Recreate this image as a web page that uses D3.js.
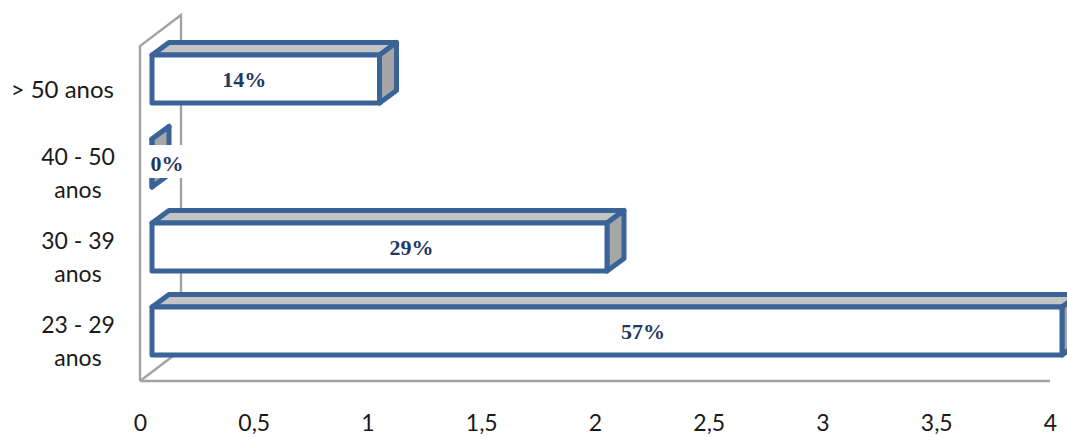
<!DOCTYPE html>
<html>
<head>
<meta charset="utf-8">
<script src="https://cdnjs.cloudflare.com/ajax/libs/d3/7.8.5/d3.min.js"></script>
<style>
html, body { margin: 0; padding: 0; background: #fff; }
svg { display: block; }
</style>
</head>
<body>
<svg id="chart" width="1067" height="437"></svg>
<script>
// Age bands, top to bottom, with respondent counts and their shares
const categories = ["> 50 anos", "40 - 50 anos", "30 - 39 anos", "23 - 29 anos"];
const counts = [1, 0, 2, 4];
const shares = ["14%", "0%", "29%", "57%"];
const tickValues = [0, 0.5, 1, 1.5, 2, 2.5, 3, 3.5, 4];
// Horizontal nudge of each percentage label from the middle of its bar
const labelNudge = [-21.5, 15, 32, 36];

const depthX = 17, depthY = 12.5;      // bar extrusion
const wallX = 41, wallY = 31;          // chart-wall extrusion
const frontShift = 12;                 // bars stand forward of the wall corner
const barColor = "#3a6397", sideFill = "#a6a6a6", topFill = "#c4c4c4";
const wallColor = "#a3a3a3", labelColor = "#1f3864";

const svg = d3.select("#chart");

const x = d3.scaleLinear().domain([0, 4]).range([140, 1050]);
const y = d3.scaleBand().domain(categories).range([37, 373])
  .paddingInner(36 / 84).paddingOuter(18 / 84);

// Back wall and floor
const floorY = 381, wallTop = 46;
const wall = svg.append("g").attr("fill", "none").attr("stroke", wallColor).attr("stroke-width", 2.4);
wall.append("path").attr("d", d3.line()([
  [x(0), floorY], [x(0), wallTop], [x(0) + wallX, wallTop - wallY], [x(0) + wallX, floorY - wallY]
]));
wall.append("path").attr("d", d3.line()([[x(0), floorY], [x(0) + wallX, floorY - wallY]]));
wall.append("path").attr("d", d3.line()([[x(0), floorY], [x(4), floorY]]));

// Extruded bars
const bars = svg.selectAll("g.bar").data(categories).join("g").attr("class", "bar")
  .attr("stroke", barColor).attr("stroke-width", 5).attr("stroke-linejoin", "round");

bars.each(function (c, i) {
  const g = d3.select(this);
  const x0 = x(0) + frontShift, x1 = x(counts[i]) + frontShift;
  const y0 = y(c), y1 = y0 + y.bandwidth();
  const poly = d3.line();
  g.append("path").attr("fill", topFill).attr("d", poly([
    [x0, y0], [x0 + depthX, y0 - depthY], [x1 + depthX, y0 - depthY], [x1, y0]
  ]) + "Z");
  g.append("path").attr("fill", sideFill).attr("d", poly([
    [x1, y0], [x1 + depthX, y0 - depthY], [x1 + depthX, y1 - depthY], [x1, y1]
  ]) + "Z");
  g.append("path").attr("fill", "#fff").attr("d", poly([
    [x0, y0], [x1, y0], [x1, y1], [x0, y1]
  ]) + "Z");
});

// Percentage labels on a white plate
const labels = svg.selectAll("g.share").data(shares).join("g").attr("class", "share")
  .attr("transform", (d, i) => {
    const mid = (x(counts[i]) + x(0)) / 2 + frontShift + labelNudge[i];
    return `translate(${mid},${y(categories[i]) + y.bandwidth() / 2})`;
  });
labels.append("rect").attr("x", -18).attr("y", -18).attr("width", 35).attr("height", 33)
  .attr("fill", (d, i) => counts[i] === 0 ? "#fff" : "none");
labels.append("text").text(d => d)
  .attr("y", 0.5).attr("dy", "0.32em").attr("text-anchor", "middle")
  .attr("font-family", "'Liberation Serif', serif").attr("font-weight", 700)
  .attr("font-size", 22).attr("fill", labelColor);

// Value axis
const axis = d3.axisBottom(x).tickValues(tickValues).tickSize(0).tickPadding(0)
  .tickFormat(d => String(d).replace(".", ","));
const axisG = svg.append("g").attr("transform", "translate(0,414.5)").call(axis);
axisG.select(".domain").remove();
axisG.selectAll("text").attr("font-family", "Lato, 'Open Sans', sans-serif")
  .attr("font-size", 23).attr("fill", "#1a1a1a");

// Category labels: one-liners sit against the axis, two-liners are centred
const catG = svg.append("g").attr("font-family", "Lato, 'Open Sans', sans-serif")
  .attr("font-size", 23).attr("fill", "#1a1a1a");
categories.forEach((c, i) => {
  const cy = y(c) + y.bandwidth() / 2;
  if (i === 0) {
    catG.append("text").text(c).attr("x", 114).attr("y", cy + 11.5).attr("dy", "0.32em")
      .attr("text-anchor", "end").attr("font-size", 24);
  } else {
    const m = c.match(/^(.*) (anos)$/);
    [m[1], m[2]].forEach((line, k) => {
      catG.append("text").text(line).attr("x", 78).attr("y", cy + 11.5 + (k - 0.5) * 33)
        .attr("dy", "0.32em").attr("text-anchor", "middle");
    });
  }
});
</script>
</body>
</html>
